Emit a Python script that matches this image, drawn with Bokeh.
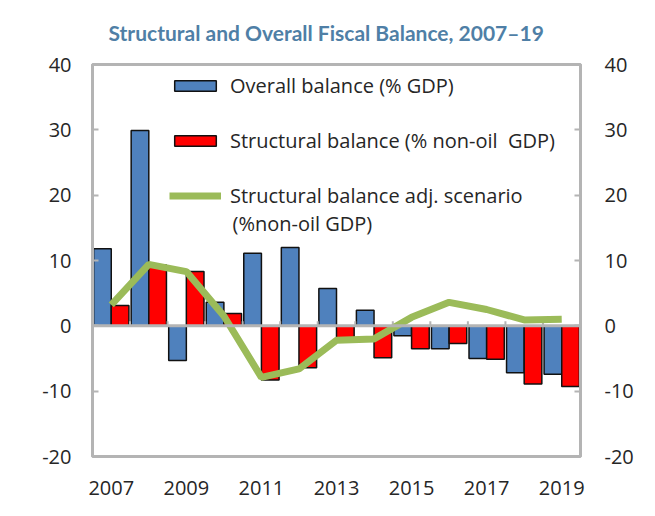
from bokeh.plotting import figure
from bokeh.models import (LinearAxis, FixedTicker, Range1d, Legend, LegendItem, Span, Label,
                          ColumnDataSource, Title)
from bokeh.transform import dodge
from bokeh.embed import file_html
from bokeh.resources import INLINE

years = [2007, 2008, 2009, 2010, 2011, 2012, 2013, 2014, 2015, 2016, 2017, 2018, 2019]
overall_balance = [11.8, 29.9, -5.3, 3.6, 11.1, 12.0, 5.7, 2.4, -1.5, -3.5, -5.0, -7.2, -7.4]
structural_balance = [3.1, 9.3, 8.3, 1.9, -8.3, -6.4, -1.9, -4.9, -3.5, -2.7, -5.1, -8.9, -9.3]
structural_adj = [3.2, 9.4, 8.3, 1.5, -7.9, -6.6, -2.2, -2.0, 1.3, 3.6, 2.5, 0.9, 1.0]
x_tick_years = [2007, 2009, 2011, 2013, 2015, 2017, 2019]
y_ticks = [-20, -10, 0, 10, 20, 30, 40]
y_tick_labels = {-20: "-20", -10: "-10", 0: "0", 10: "10", 20: "20", 30: "30", 40: "40"}
title_text = "Structural and Overall Fiscal Balance, 2007\u201319"

src = ColumnDataSource(dict(year=years, overall=overall_balance,
                            structural=structural_balance, adj=structural_adj))

GRAY = "#B4B4B4"
TXT = "#262626"
FONT = "Open Sans"

p = figure(width=645, height=510, output_backend="svg", toolbar_location=None,
           x_range=Range1d(2006.5, 2019.5), y_range=Range1d(-20, 40),
           min_border_left=92, min_border_right=65, min_border_top=64, min_border_bottom=54)
p.title.visible = False
p.xgrid.visible = False
p.ygrid.visible = False
p.outline_line_color = GRAY
p.outline_line_width = 3
p.background_fill_color = "white"
p.border_fill_color = "white"

bw = 0.47
r_over = p.vbar(x=dodge("year", -0.235, range=p.x_range), top="overall", width=bw, source=src,
                fill_color="#4F81BD", line_color="#111111", line_width=1.5)
r_struct = p.vbar(x=dodge("year", 0.235, range=p.x_range), top="structural", width=bw, source=src,
                  fill_color="#FF0000", line_color="#111111", line_width=1.5)

# zero line with category-boundary ticks
boundaries = [y - 0.5 for y in years] + [years[-1] + 0.5]
p.add_layout(Span(location=0, dimension="width", line_color=GRAY, line_width=3))
p.segment(x0=boundaries, y0=[0] * len(boundaries), x1=boundaries, y1=[0.7] * len(boundaries),
          line_color=GRAY, line_width=2)

r_adj = p.line(x="year", y="adj", source=src, line_color="#9BBB59", line_width=7)

# axes
p.xaxis.ticker = FixedTicker(ticks=x_tick_years)
p.xaxis.axis_line_color = None
p.xaxis.major_tick_line_color = None
p.xaxis.minor_tick_line_color = None
p.xaxis.major_label_text_font = FONT
p.xaxis.major_label_text_font_size = "20px"
p.xaxis.major_label_text_color = TXT
p.xaxis.major_label_standoff = 18

p.yaxis.ticker = FixedTicker(ticks=y_ticks)
p.yaxis.major_label_overrides = y_tick_labels
p.yaxis.axis_line_color = GRAY
p.yaxis.axis_line_width = 3
p.yaxis.major_tick_in = 6
p.yaxis.major_tick_out = 0
p.yaxis.major_tick_line_color = GRAY
p.yaxis.major_tick_line_width = 2
p.yaxis.minor_tick_line_color = None
p.yaxis.major_label_text_font = FONT
p.yaxis.major_label_text_font_size = "20px"
p.yaxis.major_label_text_color = TXT
p.yaxis.major_label_standoff = 21

ry = LinearAxis(ticker=FixedTicker(ticks=y_ticks), major_label_overrides=y_tick_labels,
                axis_line_color=GRAY, axis_line_width=3,
                major_tick_in=6, major_tick_out=0, major_tick_line_color=GRAY,
                major_tick_line_width=2, minor_tick_line_color=None,
                major_label_text_font=FONT, major_label_text_font_size="20px",
                major_label_text_color=TXT, major_label_standoff=24)
p.add_layout(ry, "right")

p.add_layout(Title(text=title_text, align="left", offset=16, vertical_align="top",
                   standoff=36, text_font="Lato", text_font_style="bold",
                   text_font_size="21px", text_color="#4F7FA6"),
             "above")

legend = Legend(items=[
    LegendItem(label="Overall balance (% GDP)", renderers=[r_over]),
    LegendItem(label="Structural balance (% non-oil  GDP)", renderers=[r_struct]),
    LegendItem(label="Structural balance adj. scenario", renderers=[r_adj]),
])
legend.label_text_font = FONT
legend.label_text_font_size = "20px"
legend.label_text_color = TXT
legend.glyph_width = 52
legend.glyph_height = 13
legend.label_standoff = 9
legend.spacing = 28
legend.margin = 0
legend.padding = 0
legend.location = (77, 247)
legend.background_fill_alpha = 0
legend.border_line_alpha = 0
p.add_layout(legend, "center")

p.add_layout(Label(x=2010.23, y=15.6, text="(%non-oil GDP)", text_font=FONT,
                   text_font_size="20px", text_color=TXT, text_baseline="middle",
                   text_align="left"))

open("out.html", "w").write(file_html(p, INLINE))
